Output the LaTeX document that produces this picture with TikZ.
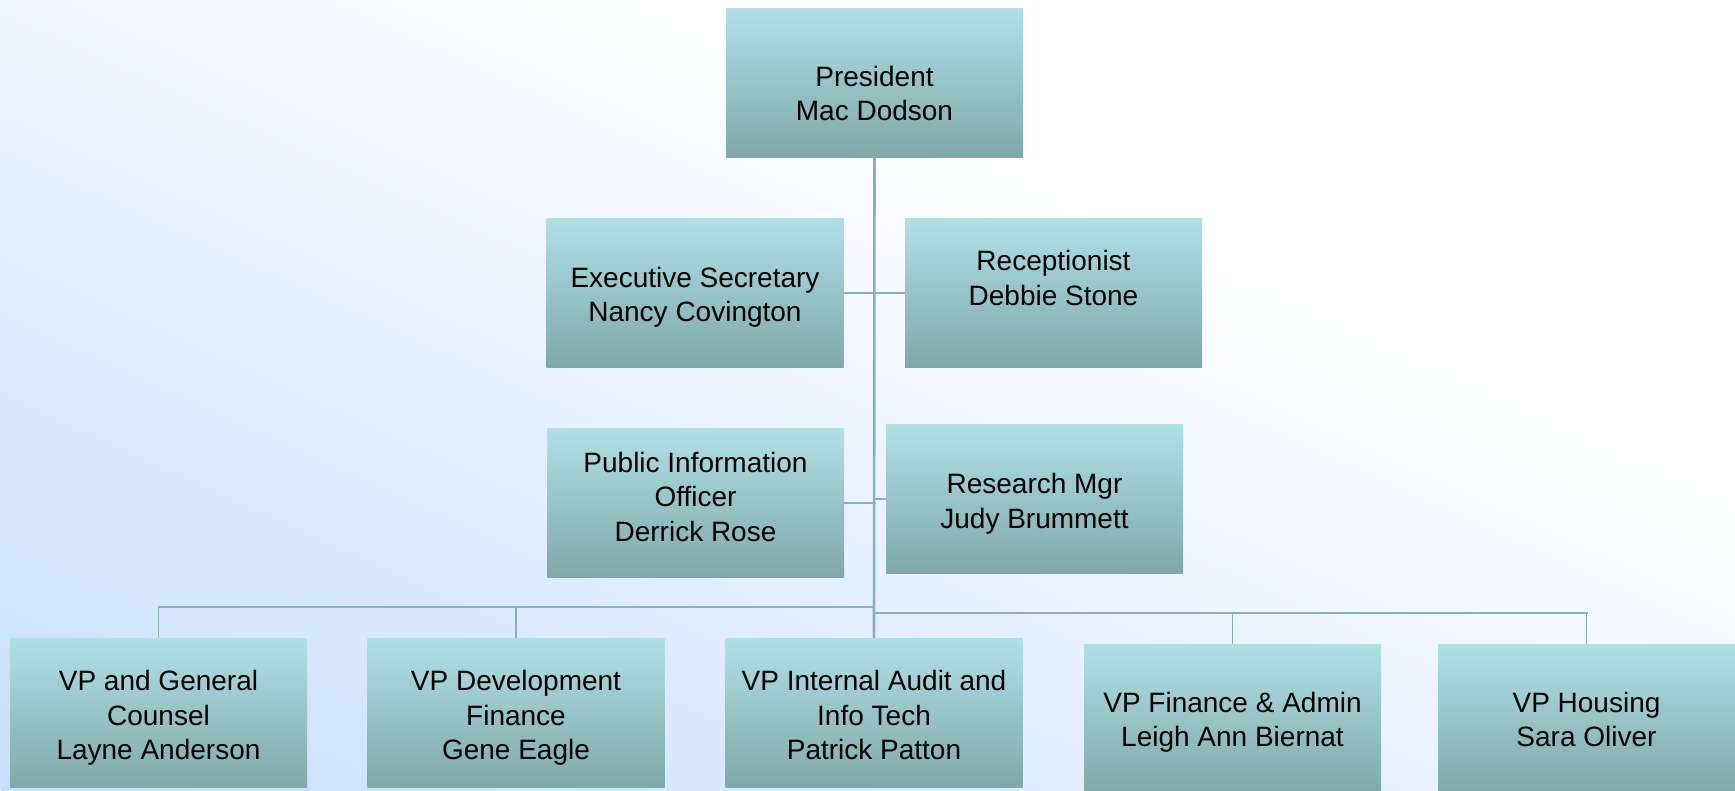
\documentclass[tikz,border=0pt]{standalone}
\usepackage{fontspec}
\setmainfont{Liberation Sans}
\definecolor{boxtop}{RGB}{176,224,230}
\definecolor{boxbot}{RGB}{128,168,168}
\definecolor{wirec}{RGB}{140,176,180}
\definecolor{bgLL}{RGB}{198,223,252}
\definecolor{bgW}{RGB}{255,255,255}
\pgfdeclarelayer{bg}
\pgfdeclarelayer{wires}
\pgfsetlayers{bg,wires,main}
\tikzset{
  box/.style={draw=none, minimum width=297pt, minimum height=149pt, inner sep=0pt,
    top color=boxtop, bottom color=boxbot},
  txt/.style={anchor=north, align=center, inner sep=0pt,
    font=\fontsize{28}{34.7}\selectfont, text=black},
  wire/.style={draw=wirec, line width=2pt, line cap=rect},
  mainwire/.style={draw=wirec, line width=2.6pt},
  stub/.style={draw=wirec, line width=1.4pt},
}
\begin{document}
\begin{tikzpicture}[x=1pt,y=-1pt]
\useasboundingbox (0,0) rectangle (1735,790);
\begin{pgfonlayer}{bg}
\fill[bgW] (0,0) rectangle (1735,790);
\begin{scope}[transform canvas={shift={(0,790)}, rotate=65.5}]
  \shade[left color=bgLL, right color=bgW] (0,-2200) rectangle (1010,2200);
\end{scope}
\end{pgfonlayer}

% boxes
\node[box] (pres)    at (874.5,82.5)  {};
\node[box] (exec)    at (695,292.5)   {};
\node[box] (recep)   at (1053.5,292.5){};
\node[box] (pub)     at (695.5,502.5) {};
\node[box] (res)     at (1034.5,498.5){};
\node[box] (vpgen)   at (158.5,712.5) {};
\node[box] (vpdev)   at (516,712.5)   {};
\node[box] (vpia)    at (874,712.5)   {};
\node[box] (vpfin)   at (1232.5,718.5){};
\node[box] (vphouse) at (1586.5,718.5){};

% texts
\node[txt] (presT)  at (874.5,65.7)  {President\\Mac Dodson};
\node[txt] (execT)  at (695,266.7)   {Executive Secretary\\Nancy Covington};
\node[txt] (recepT) at (1053.5,250)  {Receptionist\\Debbie Stone};
\node[txt] (pubT)   at (695.5,451.7) {Public Information\\Officer\\Derrick Rose};
\node[txt] (resT)   at (1034.5,473.3){Research Mgr\\Judy Brummett};
\node[txt] (vpgenT) at (158.5,670)   {VP and General\\Counsel\\Layne Anderson};
\node[txt] (vpdevT) at (516,670)     {VP Development\\Finance\\Gene Eagle};
\node[txt] (vpiaT)  at (874,670)     {VP Internal Audit and\\Info Tech\\Patrick Patton};
\node[txt] (vpfinT) at (1232.5,691.7){VP Finance \& Admin\\Leigh Ann Biernat};
\node[txt] (vphouseT) at (1586.5,691.7){VP Housing\\Sara Oliver};

\coordinate (busL) at (874,607);
\coordinate (busR) at (874,613);

\begin{pgfonlayer}{wires}
\draw[mainwire] (pres.south) -- (vpia.north);
\draw[wire] (exec.east) -- (recep.west);
\draw[wire] (pub.east) -- (pub.east -| pres.south);
\draw[wire] (res.west) -- (res.west -| pres.south);
\draw[wire] (vpgen.north |- busL) -- (busL);
\draw[stub] (vpgen.north) -- (vpgen.north |- busL);
\draw[stub] (vpdev.north) -- (vpdev.north |- busL);
\draw[wire] (busR) -- (vphouse.north |- busR);
\draw[stub] (vpfin.north) -- (vpfin.north |- busR);
\draw[stub] (vphouse.north) -- (vphouse.north |- busR);
\end{pgfonlayer}
\end{tikzpicture}
\end{document}
